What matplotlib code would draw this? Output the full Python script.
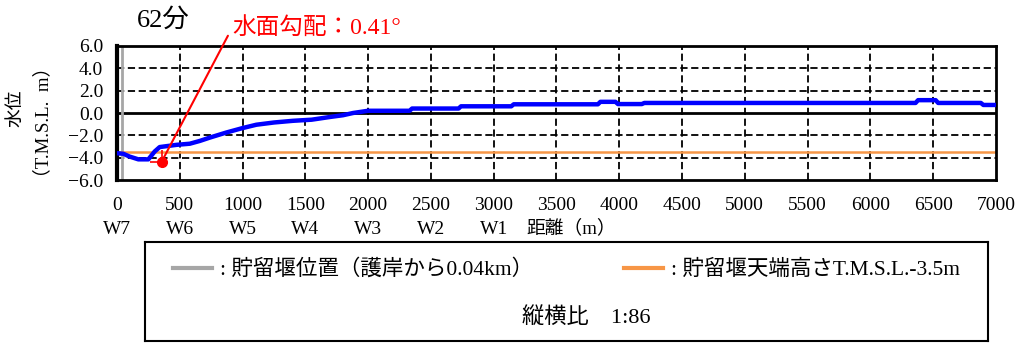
import matplotlib
matplotlib.use("Agg")
import matplotlib.pyplot as plt

plt.rcParams['font.family'] = ['Liberation Serif', 'Noto Sans CJK JP']
plt.rcParams['axes.unicode_minus'] = True

# 水位分布 (62分)
dist = [0, 50, 100, 170, 250, 300, 340, 475, 580, 660, 740, 870, 1000, 1110, 1250,
        1400, 1550, 1700, 1800, 1880, 2000, 2330, 2350, 2720, 2740, 3140, 3160,
        3830, 3850, 3970, 3990, 4180, 4200, 6360, 6380, 6520, 6540, 6880, 6900, 7000]
level = [-3.6, -3.65, -3.9, -4.15, -4.15, -3.45, -3.05, -2.85, -2.75, -2.5, -2.2, -1.75, -1.35, -1.05, -0.85,
         -0.7, -0.6, -0.35, -0.2, 0.0, 0.2, 0.2, 0.4, 0.4, 0.6, 0.6, 0.78,
         0.78, 1.0, 1.0, 0.8, 0.8, 0.9, 0.9, 1.15, 1.15, 0.9, 0.9, 0.72, 0.72]

weir_pos = 40          # 貯留堰位置 (m)
weir_top = -3.5        # 貯留堰天端高さ
slope_pt = (356, -4.36)
slope_label = '水面勾配：0.41°'
time_label = '62分'

xticks = list(range(0, 7001, 500))
yticks = [-6, -4, -2, 0, 2, 4, 6]
w_labels = ['W7', 'W6', 'W5', 'W4', 'W3', 'W2', 'W1']
w_pos = [0, 500, 1000, 1500, 2000, 2500, 3000]

fig = plt.figure(figsize=(10.28, 3.43), dpi=100)
ax = fig.add_axes([0.1138, 0.4752, 0.855, 0.3907])

ax.set_xlim(0, 7000)
ax.set_ylim(-6, 6)
ax.set_xticks(xticks)
ax.set_yticks(yticks)
ax.set_yticklabels([('%.1f' % v).replace('-', '\u2212') for v in yticks])
ax.tick_params(length=0, labelsize=14, pad=10)
ax.tick_params(axis='x', pad=12)

# グリッド
for v in yticks[1:-1]:
    if v == 0:
        ax.axhline(v, color='black', lw=2, zorder=1)
    else:
        ax.axhline(v, color='black', lw=1.3, ls=(0, (4, 2)), zorder=1)
for v in xticks[1:-1]:
    ax.axvline(v, color='black', lw=1.3, ls=(0, (4, 2)), zorder=1)

for s in ax.spines.values():
    s.set_linewidth(2)
ax.spines['left'].set_linewidth(3)

gray = ax.axvline(weir_pos, color='#a6a6a6', lw=2, zorder=2,
                  label=': 貯留堰位置（護岸から0.04km）')
orange = ax.axhline(weir_top, color='#F79646', lw=1.8, zorder=2,
                    label=': 貯留堰天端高さT.M.S.L.-3.5m')
ax.plot(dist, level, color='#0000FF', lw=3.2, zorder=3)

# 水面勾配
ax.plot(*slope_pt, marker=0, color='red', ms=9, mew=1.2, zorder=4)
ax.plot(*slope_pt, marker=2, color='red', ms=9, mew=1.2, zorder=4)
ax.plot(*slope_pt, 'o', color='red', ms=7, zorder=5)
ax.annotate(slope_label, xy=slope_pt, xytext=(232, 315), textcoords='figure pixels',
            color='red', fontsize=17, ha='left', va='center',
            arrowprops=dict(arrowstyle='-', color='red', lw=1.5, relpos=(0, 0.5),
                            shrinkA=2, shrinkB=0))

fig.text(137 / 1028, 1 - 20 / 343, time_label, fontsize=19, ha='left', va='center')

# 軸ラベル
fig.text(16 / 1028, 1 - 108 / 343, '水位', rotation=90, fontsize=13.5,
         ha='center', va='center')
fig.text(43 / 1028, 1 - 122 / 343, '（T.M.S.L.  m）', rotation=90, fontsize=13.5,
         ha='center', va='center')

for p, lab in zip(w_pos, w_labels):
    ax.text(p, -0.37, lab, transform=ax.get_xaxis_transform(), fontsize=14,
            ha='center', va='center')
ax.text(3260, -0.36, '距離（m）', transform=ax.get_xaxis_transform(), fontsize=13.5,
        ha='left', va='center')

# 凡例
lax = fig.add_axes([145 / 1028, 2 / 343, 843 / 1028, 99 / 343])
lax.set_xticks([])
lax.set_yticks([])
for s in lax.spines.values():
    s.set_linewidth(1.5)
leg = lax.legend(handles=[gray, orange], loc='center', bbox_to_anchor=(0.5, 0.72),
                 ncol=2, frameon=False, fontsize=15.5, handlelength=1.8,
                 handletextpad=0.4, columnspacing=4.2)
for h in leg.legend_handles:
    h.set_linewidth(3)
lax.text(0.524, 0.24, '縦横比　1:86', fontsize=16, ha='center', va='center',
         transform=lax.transAxes)

fig.savefig('out.png', dpi=100)
